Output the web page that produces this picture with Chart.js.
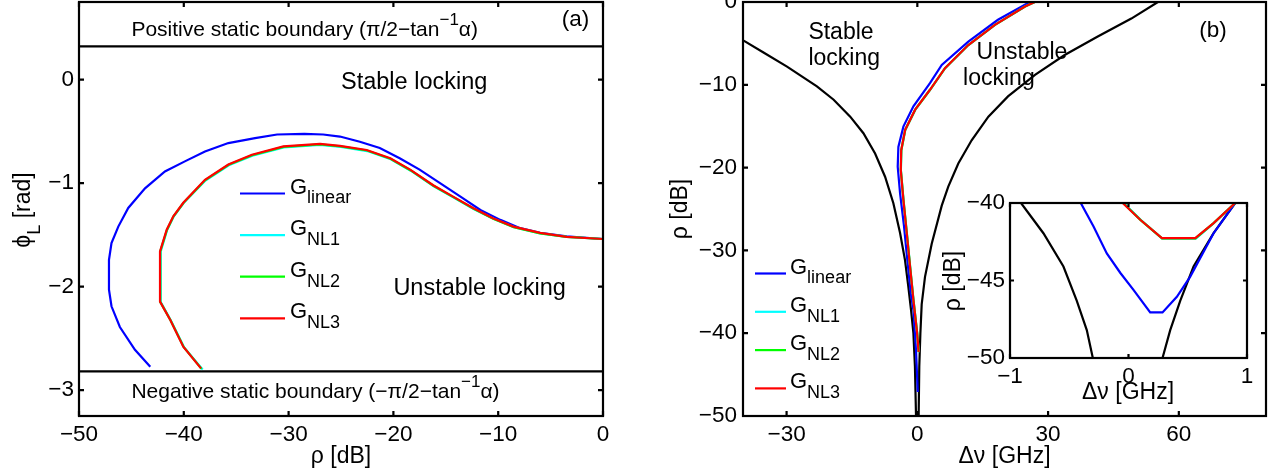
<!DOCTYPE html>
<html>
<head>
<meta charset="utf-8">
<script src="https://cdn.jsdelivr.net/npm/chart.js@4.4.1/dist/chart.umd.min.js"></script>
<style>
  body { margin: 0; background: #fff; width: 1275px; height: 474px; position: relative; overflow: hidden; }
  canvas { position: absolute; }
</style>
</head>
<body>
<canvas id="chartA" width="640" height="474" style="left:0;top:0"></canvas>
<canvas id="chartB" width="635" height="474" style="left:640px;top:0"></canvas>
<canvas id="chartInset" width="330" height="230" style="left:940px;top:190px"></canvas>
<script>
// ---- panel (a): phi_L vs rho ----
const rhoLinearA = [-43.2, -44.66, -46.1, -46.9, -47.14, -47.14, -46.9, -46.25, -45.3, -43.7, -41.8, -39.9, -37.98, -35.75, -33.2, -31.1, -28.5, -26.7, -25.1, -23.2, -21.3, -19.4, -17.5, -15.55, -13.6, -11.7, -9.8, -7.9, -6.0, -3.47, 0];
const phiLinearA = [-2.775, -2.61, -2.39, -2.19, -2.03, -1.74, -1.58, -1.42, -1.24, -1.05, -0.887, -0.79, -0.694, -0.613, -0.565, -0.53, -0.525, -0.53, -0.55, -0.60, -0.66, -0.76, -0.87, -1.0, -1.13, -1.26, -1.355, -1.435, -1.48, -1.515, -1.54];
const rhoNL1A = [-38.2, -39.95, -41.22, -42.2, -42.2, -41.58, -40.95, -40.0, -37.93, -35.7, -33.45, -30.45, -27.0, -25.0, -22.5, -20.25, -18.35, -16.15, -14.25, -12.35, -10.45, -8.5, -6.0, -3.45, 0];
const phiNL1A = [-2.80, -2.59, -2.33, -2.15, -1.66, -1.45, -1.32, -1.19, -0.975, -0.828, -0.735, -0.655, -0.63, -0.65, -0.69, -0.77, -0.88, -1.03, -1.14, -1.25, -1.345, -1.425, -1.485, -1.52, -1.54];
const rhoNL2A = [-38.3, -40.0, -41.27, -42.25, -42.25, -41.6, -40.98, -40.02, -37.95, -35.72, -33.48, -30.48, -27.0, -25.05, -22.52, -20.28, -18.38, -16.18, -14.28, -12.38, -10.48, -8.52, -6.0, -3.46, 0];
const phiNL2A = [-2.795, -2.585, -2.325, -2.147, -1.66, -1.45, -1.32, -1.19, -0.97, -0.823, -0.73, -0.65, -0.625, -0.645, -0.685, -0.765, -0.875, -1.025, -1.135, -1.245, -1.345, -1.425, -1.485, -1.52, -1.54];
const rhoNL3A = [-38.36, -40.05, -41.3, -42.27, -42.27, -41.63, -41.0, -40.05, -37.98, -35.75, -33.5, -30.5, -27.0, -25.1, -22.55, -20.3, -18.4, -16.2, -14.3, -12.4, -10.5, -8.55, -6.0, -3.47, 0];
const phiNL3A = [-2.79, -2.58, -2.32, -2.145, -1.66, -1.45, -1.32, -1.19, -0.968, -0.82, -0.726, -0.645, -0.62, -0.64, -0.68, -0.76, -0.87, -1.02, -1.13, -1.24, -1.34, -1.42, -1.48, -1.52, -1.54];
const boundaryRhoA = [-50, 0];
const posBoundaryA = [0.3217, 0.3217];   // pi/2 - atan(3)
const negBoundaryA = [-2.8198, -2.8198]; // -pi/2 - atan(3)
const rhoTicksA = [-50, -40, -30, -20, -10, 0];
const phiTicksA = [-3, -2, -1, 0];

// ---- panel (b): rho vs detuning ----
const dnuLeftB = [-39.85, -35.3, -29.9, -23.04, -19.2, -15.4, -12.37, -9.69, -7.4, -5.5, -3.96, -2.82, -2.06, -1.44, -0.9, -0.55, -0.3];
const rhoLeftB = [-4.66, -6.1, -7.8, -10.2, -11.8, -13.85, -15.85, -18.3, -21.1, -24.3, -27.9, -31.2, -34.4, -37.2, -40, -44, -50];
const dnuRightB = [0.3, 0.45, 0.7, 1.0, 1.76, 3.3, 5.6, 7.1, 9.4, 12.46, 16.3, 20.8, 27.0, 33.8, 41.4, 49.1, 55.2];
const rhoRightB = [-50, -44, -40, -36.5, -33.2, -29.2, -24.6, -22.3, -19.5, -16.7, -13.85, -11.4, -8.8, -6.4, -4.17, -2.0, 0];
const dnuLinearB = [0.1, -0.3, -0.9, -1.5, -2.29, -3.05, -3.96, -4.5, -4.35, -3.2, -0.9, 2.9, 5.6, 11.7, 18.5, 25.4, 26.0];
const rhoLinearB = [-47.1, -42.1, -37.2, -35.2, -31.2, -27.1, -23.1, -19.9, -17.5, -15.05, -12.6, -9.8, -7.6, -4.78, -2.15, -0.13, 0];
const dnuNL1B = [0.32, -0.02, -0.87, -1.64, -2.4, -3.17, -3.77, -3.67, -2.77, -0.47, 2.93, 6.37, 11.72, 17.82, 24.72, 26.95];
const rhoNL1B = [-42.3, -40, -36, -32, -27.9, -23.9, -20.3, -17.9, -15.45, -13.0, -10.6, -8.0, -5.2, -2.76, -0.54, 0];
const dnuNL2B = [0.31, -0.03, -0.88, -1.65, -2.41, -3.18, -3.78, -3.68, -2.78, -0.48, 2.92, 6.36, 11.71, 17.81, 24.71, 26.95];
const rhoNL2B = [-42.28, -40, -36, -32, -27.9, -23.9, -20.3, -17.9, -15.45, -13.0, -10.6, -8.0, -5.2, -2.76, -0.54, 0];
const dnuNL3B = [0.3, -0.05, -0.9, -1.67, -2.43, -3.2, -3.8, -3.7, -2.8, -0.5, 2.9, 6.34, 11.7, 17.8, 24.7, 26.95];
const rhoNL3B = [-42.27, -40, -36, -32, -27.9, -23.9, -20.3, -17.9, -15.45, -13.0, -10.6, -8.0, -5.2, -2.76, -0.54, 0];
const dnuTicksB = [-30, 0, 30, 60];
const rhoTicksB = [-50, -40, -30, -20, -10, 0];

// ---- inset of (b) ----
const dnuLeftIn = [-0.907, -0.718, -0.549, -0.437, -0.352, -0.301];
const rhoLeftIn = [-40, -41.95, -44.1, -46.3, -48.2, -50];
const dnuRightIn = [0.287, 0.352, 0.437, 0.549, 0.718, 0.90];
const rhoRightIn = [-50, -48.2, -46.3, -44.1, -41.95, -40];
const dnuLinearIn = [-0.403, -0.296, -0.183, -0.070, 0.042, 0.183, 0.287, 0.408, 0.521, 0.718, 0.90];
const rhoLinearIn = [-40, -41.5, -43.25, -44.5, -45.6, -47.06, -47.06, -46.05, -44.75, -41.95, -40];
const dnuNL1In = [-0.04, 0.105, 0.285, 0.568, 0.72, 0.90];
const rhoNL1In = [-40, -41.1, -42.3, -42.3, -41.3, -40];
const dnuNL2In = [-0.045, 0.1, 0.283, 0.565, 0.718, 0.90];
const rhoNL2In = [-40, -41.09, -42.28, -42.28, -41.3, -40];
const dnuNL3In = [-0.049, 0.099, 0.282, 0.563, 0.718, 0.90];
const rhoNL3In = [-40, -41.08, -42.27, -42.27, -41.3, -40];
const dnuTicksIn = [-1, 0, 1];
const rhoTicksIn = [-50, -45, -40];

const legendLabels = ['linear', 'NL1', 'NL2', 'NL3'];
const colors = ['#0000ff', '#00ffff', '#00ff00', '#ff0000'];

const FONT = '"Liberation Sans", Arial, Helvetica, sans-serif';
const LW = 2.2;
const fmt = v => (v < 0 ? '\u2212' + Math.abs(v) : String(v));

function series(xs, ys, color, order) {
  return {
    data: xs.map((x, i) => ({ x, y: ys[i] })),
    borderColor: color, borderWidth: LW, pointRadius: 0, showLine: true, fill: false, order
  };
}

// text with optional sub/superscript parts: [[text, 'sub'|'sup'|undefined], ...]
function drawRich(ctx, parts, x, y, size, align) {
  const small = Math.round(size * 0.8);
  const widths = parts.map(([t, k]) => {
    ctx.font = (k ? small : size) + 'px ' + FONT;
    return ctx.measureText(t).width;
  });
  const total = widths.reduce((a, b) => a + b, 0);
  let cx = align === 'center' ? x - total / 2 : x;
  parts.forEach(([t, k], i) => {
    ctx.font = (k ? small : size) + 'px ' + FONT;
    const dy = k === 'sub' ? size * 0.45 : k === 'sup' ? -size * 0.52 : 0;
    ctx.fillText(t, cx, y + dy);
    cx += widths[i];
  });
}

// MATLAB style box with inward ticks, plus notes, legend and axis titles
function framePlugin(extra) {
  return {
    id: 'frame',
    beforeDraw(chart) {
      if (!extra.fill) return;
      const a = chart.chartArea;
      chart.ctx.save();
      chart.ctx.fillStyle = extra.fill;
      chart.ctx.fillRect(a.left, a.top, a.right - a.left, a.bottom - a.top);
      chart.ctx.restore();
    },
    afterDraw(chart) {
      const { ctx, chartArea: a, scales } = chart;
      const len = extra.tickLength;
      ctx.save();
      ctx.strokeStyle = '#000';
      ctx.lineWidth = LW;
      ctx.beginPath();
      scales.x.ticks.forEach(t => {
        const p = scales.x.getPixelForValue(t.value);
        ctx.moveTo(p, a.bottom); ctx.lineTo(p, a.bottom - len);
        ctx.moveTo(p, a.top); ctx.lineTo(p, a.top + len);
      });
      scales.y.ticks.forEach(t => {
        const p = scales.y.getPixelForValue(t.value);
        ctx.moveTo(a.left, p); ctx.lineTo(a.left + len, p);
        ctx.moveTo(a.right, p); ctx.lineTo(a.right - len, p);
      });
      ctx.stroke();
      ctx.strokeRect(a.left, a.top, a.right - a.left, a.bottom - a.top);

      ctx.fillStyle = '#000';
      ctx.textBaseline = 'alphabetic';
      ctx.textAlign = 'left';
      (extra.notes || []).forEach(n => {
        drawRich(ctx, n.parts, scales.x.getPixelForValue(n.x), scales.y.getPixelForValue(n.y), n.size, 'left');
      });

      if (extra.legend) {
        const L = extra.legend;
        legendLabels.forEach((lab, i) => {
          const y = L.y0 + i * L.dy;
          ctx.strokeStyle = colors[i];
          ctx.beginPath(); ctx.moveTo(L.x1, y); ctx.lineTo(L.x2, y); ctx.stroke();
          ctx.fillStyle = '#000';
          drawRich(ctx, [['G'], [lab, 'sub']], L.tx, y, 22, 'left');
        });
      }

      (extra.titles || []).forEach(t => {
        ctx.save();
        ctx.translate(t.x, t.y);
        if (t.rotate) ctx.rotate(-Math.PI / 2);
        drawRich(ctx, t.parts, 0, 0, t.size || 23, 'center');
        ctx.restore();
      });
      ctx.restore();
    }
  };
}

function axisOptions(o) {
  const tickFont = { family: FONT, size: o.tickSize || 22.5 };
  return {
    x: {
      type: 'linear', min: o.xMin, max: o.xMax,
      afterBuildTicks: s => { s.ticks = o.xTicks.map(v => ({ value: v })); },
      afterFit: s => { s.height = o.xHeight; s.paddingLeft = 0; s.paddingRight = 0; },
      grid: { display: false, drawTicks: false }, border: { display: false },
      ticks: { font: tickFont, color: '#000', padding: o.xPad, maxRotation: 0, autoSkip: false, callback: fmt }
    },
    y: {
      type: 'linear', min: o.yMin, max: o.yMax,
      afterBuildTicks: s => { s.ticks = o.yTicks.map(v => ({ value: v })); },
      afterFit: s => { s.width = o.yWidth; s.paddingTop = 0; s.paddingBottom = 0; },
      grid: { display: false, drawTicks: false }, border: { display: false },
      ticks: { font: tickFont, color: '#000', padding: o.yPad, autoSkip: false, callback: fmt }
    }
  };
}

function baseOptions(o) {
  return {
    responsive: false, animation: false, events: [],
    layout: { padding: { left: 0, top: o.top, right: o.right, bottom: 0 } },
    plugins: { legend: { display: false }, tooltip: { enabled: false } },
    scales: axisOptions(o)
  };
}

// panel (a)
new Chart(document.getElementById('chartA'), {
  type: 'scatter',
  data: {
    datasets: [
      series(boundaryRhoA, posBoundaryA, '#000', 5),
      series(boundaryRhoA, negBoundaryA, '#000', 5),
      series(rhoLinearA, phiLinearA, colors[0], 3),
      series(rhoNL1A, phiNL1A, colors[1], 2),
      series(rhoNL2A, phiNL2A, colors[2], 1),
      series(rhoNL3A, phiNL3A, colors[3], 0)
    ]
  },
  options: baseOptions({
    xMin: -50, xMax: 0, yMin: -3.25, yMax: 0.75, xTicks: rhoTicksA, yTicks: phiTicksA,
    xHeight: 58, yWidth: 79, top: 2, right: 37, xPad: 5, yPad: 5
  }),
  plugins: [framePlugin({
    tickLength: 5,
    notes: [
      { parts: [['Positive static boundary (\u03c0/2\u2212tan'], ['\u22121', 'sup'], ['\u03b1)']], x: -45, y: 0.42, size: 21 },
      { parts: [['(a)']], x: -3.94, y: 0.52, size: 22.5 },
      { parts: [['Stable locking']], x: -25, y: -0.09, size: 23.5 },
      { parts: [['Unstable locking']], x: -20, y: -2.08, size: 23.5 },
      { parts: [['Negative static boundary (\u2212\u03c0/2\u2212tan'], ['\u22121', 'sup'], ['\u03b1)']], x: -45, y: -3.08, size: 21 }
    ],
    legend: { x1: 240, x2: 285, tx: 290, y0: 193.5, dy: 41.6 },
    titles: [
      { parts: [['\u03d5'], ['L', 'sub'], [' [rad]']], x: 30, y: 210, rotate: true },
      { parts: [['\u03c1 [dB]']], x: 341, y: 463 }
    ]
  })]
});

// panel (b)
new Chart(document.getElementById('chartB'), {
  type: 'scatter',
  data: {
    datasets: [
      series(dnuLeftB, rhoLeftB, '#000', 5),
      series(dnuRightB, rhoRightB, '#000', 5),
      series(dnuLinearB, rhoLinearB, colors[0], 3),
      series(dnuNL1B, rhoNL1B, colors[1], 2),
      series(dnuNL2B, rhoNL2B, colors[2], 1),
      series(dnuNL3B, rhoNL3B, colors[3], 0)
    ]
  },
  options: baseOptions({
    xMin: -40, xMax: 80, yMin: -50, yMax: 0, xTicks: dnuTicksB, yTicks: rhoTicksB,
    xHeight: 58, yWidth: 103, top: 2, right: 9, xPad: 5, yPad: 6
  }),
  plugins: [framePlugin({
    tickLength: 5,
    notes: [
      { parts: [['Stable']], x: -25, y: -4.49, size: 23 },
      { parts: [['locking']], x: -25, y: -7.59, size: 23 },
      { parts: [['Unstable']], x: 13.6, y: -6.9, size: 23 },
      { parts: [['locking']], x: 10.5, y: -10.0, size: 23 },
      { parts: [['(b)']], x: 64.7, y: -4.25, size: 22.5 }
    ],
    legend: { x1: 115, x2: 146, tx: 150, y0: 273.5, dy: 38.3 },
    titles: [
      { parts: [['\u03c1 [dB]']], x: 47, y: 209, rotate: true },
      { parts: [['\u0394\u03bd [GHz]']], x: 364.5, y: 463 }
    ]
  })]
});

// inset of (b)
new Chart(document.getElementById('chartInset'), {
  type: 'scatter',
  data: {
    datasets: [
      series(dnuLeftIn, rhoLeftIn, '#000', 5),
      series(dnuRightIn, rhoRightIn, '#000', 5),
      series(dnuLinearIn, rhoLinearIn, colors[0], 3),
      series(dnuNL1In, rhoNL1In, colors[1], 2),
      series(dnuNL2In, rhoNL2In, colors[2], 1),
      series(dnuNL3In, rhoNL3In, colors[3], 0)
    ]
  },
  options: baseOptions({
    xMin: -1, xMax: 1, yMin: -50, yMax: -40, xTicks: dnuTicksIn, yTicks: rhoTicksIn,
    xHeight: 62, yWidth: 70, top: 13, right: 23, xPad: 5, yPad: 5
  }),
  plugins: [framePlugin({
    fill: '#fff',
    tickLength: 4,
    titles: [
      { parts: [['\u03c1 [dB]']], x: 20, y: 91, rotate: true },
      { parts: [['\u0394\u03bd [GHz]']], x: 188, y: 209 }
    ]
  })]
});
</script>
</body>
</html>
